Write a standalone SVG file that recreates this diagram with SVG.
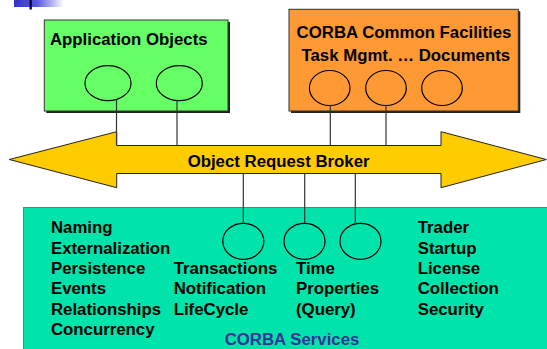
<svg xmlns="http://www.w3.org/2000/svg" width="547" height="349" viewBox="0 0 547 349">
<defs>
<linearGradient id="logo" x1="0" y1="0" x2="1" y2="0">
<stop offset="0" stop-color="#3333CC"/>
<stop offset="0.45" stop-color="#5555DD"/>
<stop offset="1" stop-color="#FFFFFF"/>
</linearGradient>
</defs>
<style>
text{font-family:"Liberation Sans",Arial,sans-serif;font-weight:bold;font-size:16.8px;fill:#000}
.svc{fill:#333399}
.ell{fill:none;stroke:#000;stroke-width:1.2}
.conn line{stroke:#333;stroke-width:1.2}
.shadow{fill:#222}
</style>
<rect width="547" height="349" fill="#fff"/>
<g id="logo">
<rect x="14" y="0" width="50" height="7" fill="url(#logo)"/>
<rect x="29.5" y="0" width="2.3" height="9.5" fill="#000033"/>
</g>
<g id="corba-services">
<rect x="23.5" y="207.5" width="530" height="150" fill="#00E3AA" stroke="#777" stroke-width="1"/>
<text x="51" y="233.3">Naming</text>
<text x="51" y="253.5">Externalization</text>
<text x="51" y="274">Persistence</text>
<text x="51" y="294.3">Events</text>
<text x="51" y="314.7">Relationships</text>
<text x="51" y="335">Concurrency</text>
<text x="173.7" y="274">Transactions</text>
<text x="173.7" y="294.3">Notification</text>
<text x="173.7" y="314.7">LifeCycle</text>
<text x="296" y="274">Time</text>
<text x="296" y="294.3">Properties</text>
<text x="296" y="314.7">(Query)</text>
<text x="417.7" y="233.3">Trader</text>
<text x="417.7" y="253.5">Startup</text>
<text x="417.7" y="274">License</text>
<text x="417.7" y="294.3">Collection</text>
<text x="417.7" y="314.7">Security</text>
<text class="svc" x="292" y="345" text-anchor="middle">CORBA Services</text>
<ellipse class="ell" cx="243.3" cy="241.3" rx="20.5" ry="18"/>
<ellipse class="ell" cx="304.5" cy="241.3" rx="20.5" ry="18"/>
<ellipse class="ell" cx="360.5" cy="241.3" rx="20.5" ry="18"/>
</g>
<g id="application-objects">
<rect class="shadow" x="46.3" y="22" width="183.7" height="91"/>
<rect x="44.3" y="20" width="183.7" height="91" fill="#66FF66" stroke="#333" stroke-width="1"/>
<text x="50" y="45">Application Objects</text>
<ellipse class="ell" cx="108" cy="83.2" rx="23" ry="17.5"/>
<ellipse class="ell" cx="179.3" cy="83.2" rx="23" ry="17.5"/>
</g>
<g id="common-facilities">
<rect class="shadow" x="291" y="11.3" width="229.3" height="101.7"/>
<rect x="289" y="9.3" width="229.3" height="101.7" fill="#FF9933" stroke="#333" stroke-width="1"/>
<text x="404" y="38" text-anchor="middle">CORBA Common Facilities</text>
<text x="405.8" y="61" text-anchor="middle">Task Mgmt. … Documents</text>
<ellipse class="ell" cx="329.7" cy="88" rx="20.3" ry="17.5"/>
<ellipse class="ell" cx="386" cy="88" rx="20.3" ry="17.5"/>
<ellipse class="ell" cx="442" cy="88" rx="20.3" ry="17.5"/>
</g>
<g id="orb">
<polygon points="9.3,159.5 116.7,131.7 116.7,145.5 441,145.5 441,131.7 546.3,159.5 441,187.7 441,173.5 116.7,173.5 116.7,187.7" fill="#FFCC00" stroke="#222" stroke-width="1"/>
<text x="278.6" y="167" text-anchor="middle">Object Request Broker</text>
</g>
<g id="connectors" class="conn">
<line x1="116.5" y1="99.6" x2="116.5" y2="145.5"/>
<line x1="177" y1="100.6" x2="177" y2="145.5"/>
<line x1="330.3" y1="105.5" x2="330.3" y2="145.5"/>
<line x1="386" y1="105.5" x2="386" y2="145.5"/>
<line x1="243.3" y1="173.5" x2="243.3" y2="223.3"/>
<line x1="304.7" y1="173.5" x2="304.7" y2="223.3"/>
<line x1="355.3" y1="173.5" x2="355.3" y2="223.9"/>
</g>
</svg>
